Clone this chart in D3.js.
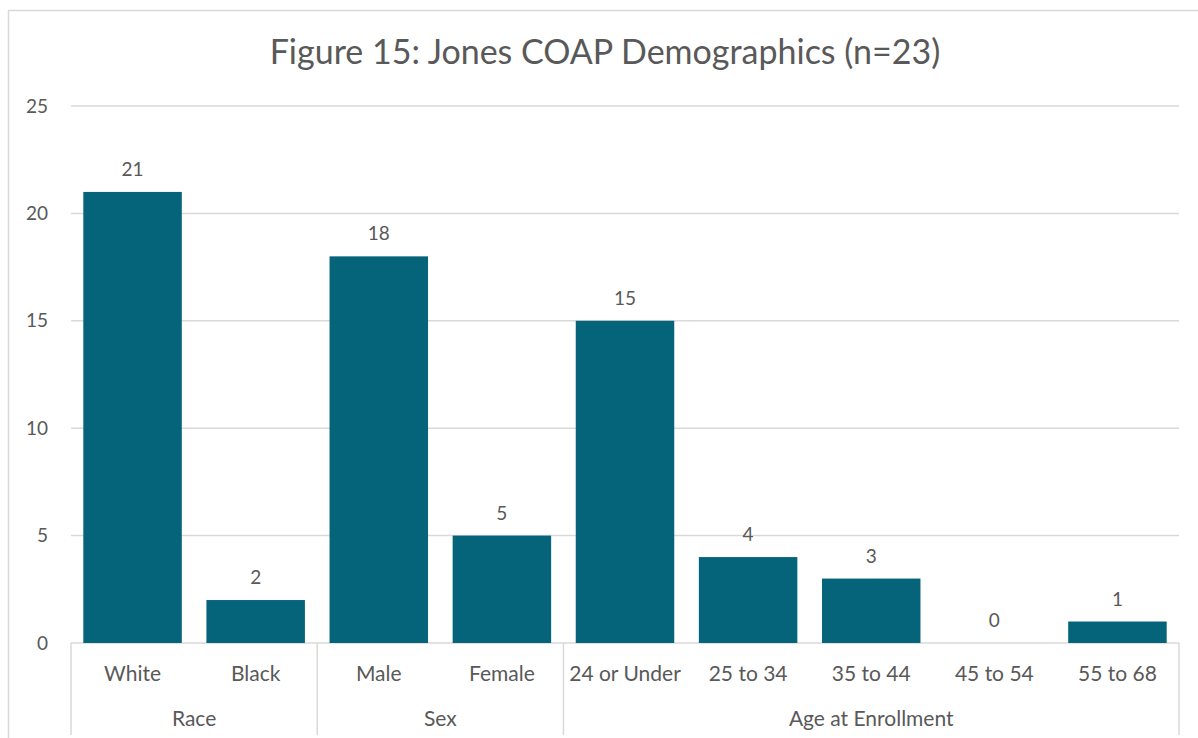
<!DOCTYPE html>
<html>
<head>
<meta charset="utf-8">
<script src="https://cdn.jsdelivr.net/npm/d3@7"></script>
<style>
  body { margin: 0; background: #fff; }
  text { font-family: "Lato", "Open Sans", sans-serif; fill: #595959; }
</style>
</head>
<body>
<script>
// chart data
const categories = ["White", "Black", "Male", "Female", "24 or Under", "25 to 34", "35 to 44", "45 to 54", "55 to 68"];
const groups = ["Race", "Race", "Sex", "Sex", "Age at Enrollment", "Age at Enrollment", "Age at Enrollment", "Age at Enrollment", "Age at Enrollment"];
const values = [21, 2, 18, 5, 15, 4, 3, 0, 1];
const yTicks = [0, 5, 10, 15, 20, 25];

var width = 1198, height = 738;
var margin = {top: 106, right: 18, bottom: 95, left: 71};

var svg = d3.select("body").append("svg")
    .attr("width", width)
    .attr("height", height);

// outer chart border
svg.append("rect")
    .attr("x", 8.5).attr("y", 10.5)
    .attr("width", 1200).attr("height", 760)
    .attr("fill", "none")
    .attr("stroke", "#d9d9d9")
    .attr("stroke-width", 1.5);

svg.append("text")
    .attr("x", 605).attr("y", 64)
    .attr("text-anchor", "middle")
    .style("font-size", "34px")
    .text("Figure 15: Jones COAP Demographics (n=23)");

var x = d3.scaleBand()
    .domain(categories)
    .range([margin.left, width - margin.right - 1])
    .paddingInner(0.2)
    .paddingOuter(0.1);

var y = d3.scaleLinear()
    .domain([0, 25])
    .range([height - margin.bottom, margin.top]);

// gridlines
svg.append("g").selectAll("line")
  .data(yTicks)
  .join("line")
    .attr("x1", margin.left).attr("x2", width - margin.right - 1)
    .attr("y1", d => y(d)).attr("y2", d => y(d))
    .attr("stroke", "#d9d9d9")
    .attr("stroke-width", 1.5);

// y labels
svg.append("g").selectAll("text")
  .data(yTicks)
  .join("text")
    .attr("x", 48)
    .attr("y", d => y(d))
    .attr("dy", "0.35em")
    .attr("text-anchor", "end")
    .style("font-size", "19px")
    .text(d => d);

// bars
svg.append("g").selectAll("rect")
  .data(values)
  .join("rect")
    .attr("x", (d, i) => x(categories[i]))
    .attr("y", d => y(d))
    .attr("width", x.bandwidth())
    .attr("height", d => y(0) - y(d))
    .attr("fill", "#05637a");

// value labels
svg.append("g").selectAll("text")
  .data(values)
  .join("text")
    .attr("x", (d, i) => x(categories[i]) + x.bandwidth() / 2)
    .attr("y", d => y(d) - 16)
    .attr("text-anchor", "middle")
    .style("font-size", "19px")
    .text(d => d);

// category labels
svg.append("g").selectAll("text")
  .data(categories)
  .join("text")
    .attr("x", d => x(d) + x.bandwidth() / 2)
    .attr("y", 681)
    .attr("text-anchor", "middle")
    .style("font-size", "21px")
    .text(d => d);

// group labels and separators
var step = x.step();
var x0 = margin.left;
var groupList = [];
groups.forEach(function(g, i) {
  var last = groupList[groupList.length - 1];
  if (!last || last.name !== g) groupList.push({name: g, start: i, end: i});
  else last.end = i;
});

var sepX = [x0].concat(groupList.map(g => x0 + (g.end + 1) * step));
sepX[sepX.length - 1] = width - margin.right - 1;
svg.append("g").selectAll("line")
  .data(sepX)
  .join("line")
    .attr("x1", d => d).attr("x2", d => d)
    .attr("y1", y(0)).attr("y2", 735)
    .attr("stroke", "#d9d9d9")
    .attr("stroke-width", 1.5);

svg.append("g").selectAll("text")
  .data(groupList)
  .join("text")
    .attr("x", d => x0 + (d.start + d.end + 1) / 2 * step)
    .attr("y", 726)
    .attr("text-anchor", "middle")
    .style("font-size", "21px")
    .text(d => d.name);
</script>
</body>
</html>
